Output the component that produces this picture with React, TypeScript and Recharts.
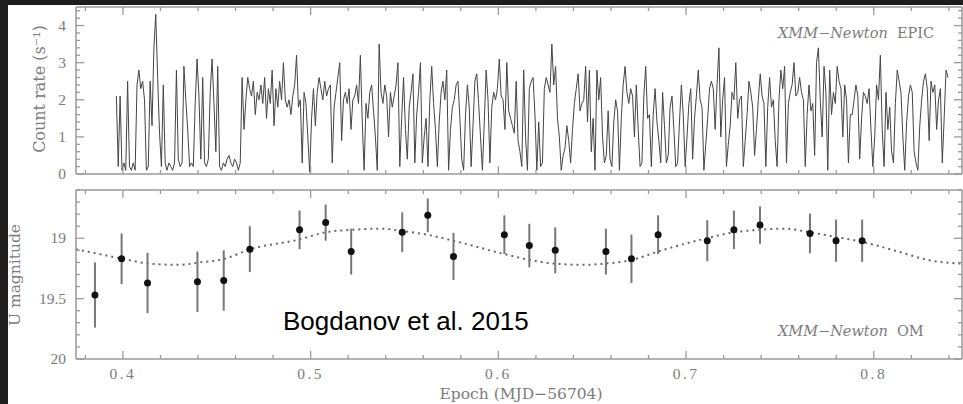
import React from 'react';
import { LineChart, ComposedChart, Line, Scatter, ErrorBar, XAxis, YAxis } from 'recharts';

// EPIC light curve: uniform time bins starting at T0
const T0 = 0.3965;
const BIN = 0.001;
const epicRate = [
  2.1, 0.2, 2.1, 0.1, 0.3, 0.1, 2.5, 0.2, 0.1, 0.3,
  0.1, 2.4, 2.8, 2.3, 2.5, 2.0, 0.1, 0.2, 2.5, 1.3,
  3.4, 4.3, 2.6, 1.1, 0.2, 2.4, 0.3, 0.1, 0.3, 0.2,
  0.1, 0.3, 2.8, 0.4, 0.2, 0.3, 2.9, 2.0, 1.2, 0.2,
  0.3, 0.2, 1.9, 3.1, 2.1, 0.4, 2.6, 0.3, 0.2, 0.4,
  2.2, 3.1, 1.9, 0.6, 2.9, 0.2, 0.1, 0.3, 0.2, 0.4,
  0.5, 0.3, 0.2, 0.4, 0.3, 0.1, 0.3, 2.6, 1.2, 2.0,
  2.6, 2.3, 2.1, 2.5, 1.6, 2.2, 2.0, 2.4, 1.9, 2.6,
  1.5, 2.3, 1.9, 2.8, 1.3, 2.3, 1.8, 2.5, 2.0, 3.0,
  2.0, 1.8, 2.0, 1.6, 2.1, 2.4, 3.2, 1.8, 2.0, 0.3,
  2.2, 1.9, 1.0, 0.05, 1.5, 2.3, 1.3, 2.2, 2.6, 2.3,
  2.0, 2.5, 2.1, 2.3, 2.4, 0.3, 1.8, 2.2, 2.6, 3.0,
  0.9, 2.0, 2.2, 1.9, 2.3, 1.2, 2.0, 2.1, 2.4, 1.9,
  3.2, 1.4, 0.1, 1.9, 1.5, 2.2, 2.4, 1.7, 1.0, 0.1,
  3.5, 2.2, 1.9, 2.4, 2.1, 1.0, 2.2, 1.8, 2.1, 2.4,
  3.0, 0.2, 1.5, 2.6, 1.2, 0.4, 1.8, 2.2, 2.7, 0.3,
  1.6, 2.2, 3.0, 0.3, 1.0, 1.5, 0.2, 2.0, 2.9, 1.9,
  1.2, 0.2, 1.4, 2.2, 2.5, 2.0, 2.8, 0.1, 1.2, 1.8,
  2.0, 2.4, 2.5, 1.5, 0.4, 0.1, 1.6, 2.4, 1.8, 0.2,
  1.3, 2.5, 2.7, 1.9, 1.0, 0.1, 1.4, 2.8, 2.0, 0.3,
  1.8, 2.2, 2.0, 2.3, 3.1, 2.1, 2.0, 1.2, 3.0, 1.7,
  1.5, 1.3, 1.1, 2.5, 0.9, 0.6, 0.2, 2.8, 1.0, 0.1,
  2.3, 2.5, 2.6, 1.6, 0.1, 1.4, 0.2, 0.3, 2.3, 2.6,
  2.4, 2.2, 3.5, 2.4, 2.9, 1.5, 1.0, 0.1, 0.5, 0.7,
  1.3, 0.9, 0.3, 1.2, 1.9, 2.3, 2.7, 1.7, 1.9, 2.0,
  2.9, 1.4, 2.8, 0.6, 1.5, 0.1, 2.8, 2.0, 2.6, 1.0,
  0.3, 0.5, 1.7, 0.4, 0.2, 1.4, 2.0, 1.7, 0.1, 1.5,
  2.4, 2.9, 2.2, 1.9, 2.3, 2.1, 1.0, 2.4, 1.2, 0.2,
  0.3, 2.1, 2.9, 1.5, 1.6, 0.2, 1.6, 2.3, 1.4, 0.9,
  0.3, 2.2, 1.3, 0.3, 0.5, 1.8, 2.1, 1.2, 0.2, 0.3,
  1.4, 2.4, 1.6, 0.2, 1.0, 1.9, 2.3, 0.4, 1.5, 2.1,
  2.8, 2.0, 1.8, 0.1, 0.8, 1.5, 2.3, 2.5, 2.3, 1.2,
  2.4, 3.4, 1.0, 2.0, 2.6, 0.2, 0.8, 1.3, 2.2, 2.0,
  3.0, 1.5, 2.0, 2.1, 0.2, 0.9, 1.6, 2.5, 2.2, 1.8,
  0.5, 1.2, 2.0, 2.7, 2.1, 1.9, 0.2, 1.8, 2.6, 1.8,
  2.0, 0.9, 0.2, 2.0, 2.8, 2.3, 2.9, 0.3, 1.9, 2.2,
  2.4, 3.0, 2.1, 2.2, 2.6, 2.2, 2.0, 0.2, 1.6, 2.4,
  1.7, 1.9, 0.5, 3.0, 3.4, 2.0, 1.0, 2.9, 2.2, 0.1,
  2.8, 1.6, 2.2, 1.9, 2.9, 2.5, 2.3, 1.0, 2.4, 2.0,
  0.3, 1.6, 1.6, 2.0, 2.4, 2.1, 0.4, 1.5, 2.2, 2.1,
  1.9, 2.3, 1.2, 0.2, 1.0, 2.4, 2.0, 3.2, 1.2, 0.2,
  2.2, 1.2, 1.8, 0.6, 0.3, 1.9, 2.8, 2.5, 2.2, 1.0,
  0.1, 1.4, 2.1, 2.4, 2.2, 0.6, 0.3, 0.1, 1.3, 2.0,
  2.5, 2.7, 2.3, 0.9, 2.5, 2.2, 2.4, 1.2, 2.0, 2.3,
  0.3, 1.5, 2.8, 2.6,
];

// OM photometry
const omEpoch = [
  0.3851, 0.3993, 0.4131, 0.4397, 0.4537, 0.4676, 0.4941, 0.508, 0.5216, 0.5488, 0.5624, 0.5761,
  0.6032, 0.6165, 0.6303, 0.6573, 0.6709, 0.6851, 0.7113, 0.7255, 0.7394, 0.766, 0.7799, 0.7938,
];
const omMag = [
  19.47, 19.17, 19.37, 19.36, 19.35, 19.09, 18.93, 18.87, 19.11, 18.95, 18.81, 19.15,
  18.97, 19.06, 19.1, 19.11, 19.17, 18.97, 19.02, 18.93, 18.89, 18.96, 19.02, 19.02,
];
const omErr = [
  0.27, 0.21, 0.25, 0.25, 0.25, 0.19, 0.16, 0.15, 0.19, 0.165, 0.14, 0.195,
  0.16, 0.18, 0.19, 0.19, 0.2, 0.16, 0.17, 0.16, 0.155, 0.165, 0.175, 0.175,
];

// dotted model curve
const modelEpoch = [
  0.375, 0.4, 0.414, 0.43, 0.441, 0.454, 0.468, 0.494, 0.508, 0.522, 0.537, 0.549, 0.562, 0.576, 0.603, 0.617,
  0.63, 0.645, 0.657, 0.671, 0.685, 0.711, 0.7255, 0.739, 0.752, 0.766, 0.78, 0.794, 0.813, 0.829, 0.847,
];
const modelMag = [
  19.09, 19.17, 19.21, 19.22, 19.2, 19.17, 19.09, 19.01, 18.95, 18.93, 18.92, 18.94, 18.97, 19.02, 19.13, 19.18,
  19.21, 19.22, 19.21, 19.18, 19.11, 19.0, 18.95, 18.93, 18.92, 18.95, 18.99, 19.03, 19.11, 19.18, 19.21,
];

// ticks
const xTicks = [
  0.38, 0.4, 0.42, 0.44, 0.46, 0.48, 0.5, 0.52, 0.54, 0.56, 0.58, 0.6,
  0.62, 0.64, 0.66, 0.68, 0.7, 0.72, 0.74, 0.76, 0.78, 0.8, 0.82, 0.84,
];
const xMajor = [0.4, 0.5, 0.6, 0.7, 0.8];
const rateTicks = [0, 0.2, 0.4, 0.6, 0.8, 1, 1.2, 1.4, 1.6, 1.8, 2, 2.2, 2.4, 2.6, 2.8, 3, 3.2, 3.4, 3.6, 3.8, 4, 4.2, 4.4];
const rateMajor = [0, 1, 2, 3, 4];
const magTicks = [18.6, 18.7, 18.8, 18.9, 19, 19.1, 19.2, 19.3, 19.4, 19.5, 19.6, 19.7, 19.8, 19.9, 20];
const magMajor = [19, 19.5, 20];

const X_DOMAIN: [number, number] = [0.375, 0.847];

const epicData = epicRate.map((rate, i) => ({ t: T0 + i * BIN, rate }));
const omData = omEpoch.map((t, i) => ({ t, mag: omMag[i], err: omErr[i] }));
const modelData = modelEpoch.map((t, i) => ({ t, mag: modelMag[i] }));

const FRAME = '#9a9a9a';
const LABEL = '#7c7c7c';
const frameLine = { stroke: FRAME, strokeWidth: 1.5 };

type Side = 'bottom' | 'top' | 'left' | 'right';

// PGPLOT-style ticks pointing into the frame
function inTick(side: Side, majors: number[], withLabels: boolean) {
  return function Tick(props: any) {
    const { x, y, payload } = props;
    const v = payload.value as number;
    const major = majors.some((m) => Math.abs(m - v) < 1e-6);
    const len = major ? 8 : 4;
    let x2 = x;
    let y2 = y;
    if (side === 'bottom') y2 = y - len;
    if (side === 'top') y2 = y + len;
    if (side === 'left') x2 = x + len;
    if (side === 'right') x2 = x - len;
    let label = null;
    if (withLabels && major) {
      if (side === 'bottom') {
        label = (
          <text x={x} y={y + 20} textAnchor="middle" fill={LABEL} fontSize={15.5}
            fontFamily="'Liberation Serif', serif" letterSpacing={2.5}>
            {String(v)}
          </text>
        );
      } else {
        label = (
          <text x={x - 10} y={y + 5} textAnchor="end" fill={LABEL} fontSize={15.5}
            fontFamily="'Liberation Serif', serif">
            {String(v)}
          </text>
        );
      }
    }
    return (
      <g>
        <line x1={x} y1={y} x2={x2} y2={y2} stroke={FRAME} strokeWidth={1.3} />
        {label}
      </g>
    );
  };
}

const axisBase = {
  type: 'number' as const,
  allowDataOverflow: true,
  interval: 0 as const,
  tickSize: 0,
  tickMargin: 0,
  tickLine: false,
  axisLine: frameLine,
};

const textBase: React.CSSProperties = {
  position: 'absolute',
  whiteSpace: 'nowrap',
  lineHeight: 1,
  color: LABEL,
  fontFamily: "'DejaVu Serif', serif",
};

export default function App() {
  return (
    <div style={{ position: 'fixed', left: 0, top: 0, width: 963, height: 404, background: '#1e1e1e', overflow: 'hidden' }}>
      <div style={{ position: 'absolute', left: 8, top: 5, width: 955, height: 399, background: '#fff' }} />

      <div style={{ position: 'absolute', left: 0, top: 0 }}>
        <LineChart width={963} height={182} data={epicData} margin={{ top: 6, right: 0, bottom: 7, left: 75 }}>
          <XAxis xAxisId="b" dataKey="t" domain={X_DOMAIN} ticks={xTicks} height={1} tick={inTick('bottom', xMajor, false)} {...axisBase} />
          <XAxis xAxisId="t" orientation="top" dataKey="t" domain={X_DOMAIN} ticks={xTicks} height={1} tick={inTick('top', xMajor, false)} {...axisBase} />
          <YAxis yAxisId="l" domain={[0, 4.5]} ticks={rateTicks} width={1} tick={inTick('left', rateMajor, true)} {...axisBase} />
          <YAxis yAxisId="r" orientation="right" domain={[0, 4.5]} ticks={rateTicks} width={1} tick={inTick('right', rateMajor, false)} {...axisBase} />
          <Line xAxisId="b" yAxisId="l" dataKey="rate" type="linear" stroke="#454545" strokeWidth={1} dot={false} isAnimationActive={false} />
        </LineChart>
      </div>

      <div style={{ position: 'absolute', left: 0, top: 182 }}>
        <ComposedChart width={963} height={222} margin={{ top: 7, right: 0, bottom: 44, left: 75 }}>
          <XAxis xAxisId="b" dataKey="t" domain={X_DOMAIN} ticks={xTicks} height={1} tick={inTick('bottom', xMajor, true)} {...axisBase} />
          <XAxis xAxisId="t" orientation="top" dataKey="t" domain={X_DOMAIN} ticks={xTicks} height={1} tick={inTick('top', xMajor, false)} {...axisBase} />
          <YAxis yAxisId="l" dataKey="mag" reversed domain={[18.6, 20]} ticks={magTicks} width={1} tick={inTick('left', magMajor, true)} {...axisBase} />
          <YAxis yAxisId="r" orientation="right" dataKey="mag" reversed domain={[18.6, 20]} ticks={magTicks} width={1} tick={inTick('right', magMajor, false)} {...axisBase} />
          <Line xAxisId="b" yAxisId="l" data={modelData} dataKey="mag" type="monotone" stroke="#666" strokeWidth={2}
            strokeDasharray="2 4" dot={false} isAnimationActive={false} />
          <Scatter xAxisId="b" yAxisId="l" data={omData} dataKey="mag" isAnimationActive={false}
            shape={(p: any) => <circle cx={p.cx} cy={p.cy} r={3.5} fill="#111" />}>
            <ErrorBar dataKey="err" direction="y" width={0} stroke="#777" strokeWidth={2} />
          </Scatter>
        </ComposedChart>
      </div>

      <div style={{ ...textBase, left: 40, top: 89, fontSize: 16, transform: 'translate(-50%, -50%) rotate(-90deg)' }}>
        Count rate (s⁻¹)
      </div>
      <div style={{ ...textBase, left: 16, top: 275, fontSize: 15.5, transform: 'translate(-50%, -50%) rotate(-90deg)' }}>
        U magnitude
      </div>
      <div style={{ ...textBase, left: 521, top: 395, fontSize: 15.5, transform: 'translate(-50%, -50%)' }}>
        Epoch (MJD−56704)
      </div>
      <div style={{ ...textBase, left: 778, top: 26, fontSize: 14.5 }}>
        <span style={{ fontStyle: 'italic' }}>XMM−Newton</span>&nbsp; EPIC
      </div>
      <div style={{ ...textBase, left: 778, top: 324, fontSize: 14.5 }}>
        <span style={{ fontStyle: 'italic' }}>XMM−Newton</span>&nbsp; OM
      </div>
      <div style={{ position: 'absolute', left: 283, top: 308, fontSize: 26, lineHeight: 1, color: '#000', fontFamily: "'Liberation Sans', Arial, sans-serif", whiteSpace: 'nowrap' }}>
        Bogdanov et al. 2015
      </div>
    </div>
  );
}
